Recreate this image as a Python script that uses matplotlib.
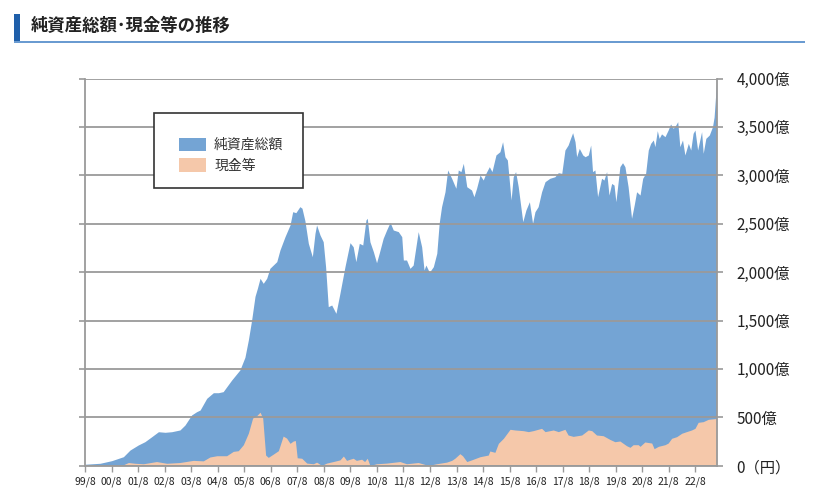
import matplotlib
matplotlib.use("Agg")
import matplotlib.pyplot as plt
from matplotlib.patches import Rectangle, Patch

plt.rcParams["font.family"] = ["Noto Sans CJK JP", "DejaVu Sans"]

# 純資産総額 (億円), x in decimal years
nav_year = [
    1999.58, 2000.15, 2000.59, 2001.03, 2001.28, 2001.59, 2001.84, 2002.10, 2002.35, 2002.60,
    2002.85, 2003.16, 2003.35, 2003.60, 2003.79, 2003.92, 2004.17, 2004.42, 2004.61, 2004.79,
    2005.11, 2005.42, 2005.61, 2005.74, 2005.86, 2005.99, 2006.08, 2006.18, 2006.30, 2006.43,
    2006.55, 2006.81, 2006.93, 2007.12, 2007.31, 2007.41, 2007.53, 2007.68, 2007.76, 2007.87,
    2008.00, 2008.15, 2008.25, 2008.31, 2008.44, 2008.56, 2008.65, 2008.75, 2008.88, 2009.04,
    2009.19, 2009.38, 2009.57, 2009.69, 2009.79, 2009.92, 2010.05, 2010.17, 2010.22, 2010.32,
    2010.45, 2010.57, 2010.67, 2010.82, 2010.95, 2011.08, 2011.20, 2011.39, 2011.52, 2011.58,
    2011.70, 2011.83, 2011.95, 2012.14, 2012.27, 2012.36, 2012.43, 2012.56, 2012.71, 2012.84,
    2012.93, 2013.02, 2013.15, 2013.25, 2013.40, 2013.56, 2013.65, 2013.75, 2013.84, 2013.97,
    2014.15, 2014.24, 2014.34, 2014.47, 2014.59, 2014.69, 2014.82, 2014.92, 2015.07, 2015.22,
    2015.32, 2015.41, 2015.50, 2015.64, 2015.72, 2015.81, 2015.91, 2016.08, 2016.20, 2016.33,
    2016.45, 2016.54, 2016.66, 2016.79, 2016.92, 2017.10, 2017.29, 2017.42, 2017.55, 2017.67,
    2017.79, 2017.88, 2017.96, 2018.05, 2018.11, 2018.21, 2018.34, 2018.43, 2018.55, 2018.64,
    2018.71, 2018.80, 2018.90, 2019.05, 2019.14, 2019.24, 2019.33, 2019.43, 2019.52, 2019.59,
    2019.74, 2019.84, 2019.93, 2020.05, 2020.18, 2020.28, 2020.37, 2020.50, 2020.60, 2020.71,
    2020.81, 2020.90, 2021.00, 2021.06, 2021.15, 2021.22, 2021.31, 2021.44, 2021.56, 2021.65,
    2021.75, 2021.85, 2021.92, 2022.00, 2022.10, 2022.19, 2022.32, 2022.41, 2022.50, 2022.57,
    2022.67, 2022.82, 2022.88, 2022.98, 2023.11, 2023.23, 2023.29, 2023.38,
]
nav_value = [
    15, 25, 52, 93, 162, 214, 248, 300, 351, 345,
    351, 369, 420, 524, 558, 575, 696, 754, 754, 765,
    885, 989, 1120, 1300, 1500, 1750, 1833, 1936, 1884, 1936,
    2039, 2108, 2228, 2366, 2487, 2624, 2614, 2676, 2660, 2531,
    2297, 2159, 2400, 2487, 2383, 2314, 2056, 1643, 1660, 1574,
    1781, 2056, 2304, 2262, 2108, 2297, 2280, 2538, 2556, 2314,
    2211, 2097, 2194, 2349, 2435, 2514, 2435, 2418, 2366, 2125,
    2125, 2039, 2073, 2418, 2262, 2022, 2073, 1998, 2056, 2194,
    2504, 2676, 2830, 3055, 2969, 2866, 3055, 3038, 3124, 2882,
    2848, 2779, 2866, 3003, 2951, 3020, 3089, 3038, 3210, 3244,
    3347, 3192, 3158, 2745, 2985, 3038, 2882, 2521, 2642, 2727,
    2504, 2624, 2676, 2830, 2934, 2969, 2985, 3027, 3020, 3261,
    3313, 3382, 3440, 3347, 3192, 3278, 3210, 3192, 3210, 3313,
    3038, 3055, 2779, 2969, 2951, 3038, 2796, 2916, 2899, 2727,
    3089, 3130, 3089, 2882, 2556, 2693, 2830, 2796, 2969, 3020,
    3261, 3330, 3365, 3296, 3461, 3382, 3428, 3399, 3468, 3530,
    3485, 3520, 3554, 3296, 3365, 3210, 3330, 3261, 3434, 3468,
    3261, 3451, 3227, 3382, 3416, 3502, 3600, 3950,
]

# 現金等 (億円)
cash_year = [
    1999.58, 2001.03, 2001.22, 2001.47, 2001.78, 2002.28, 2002.66, 2003.16, 2003.66, 2004.04,
    2004.29, 2004.55, 2004.92, 2005.17, 2005.36, 2005.55, 2005.74, 2005.90, 2006.05, 2006.18,
    2006.28, 2006.39, 2006.49, 2006.68, 2006.87, 2007.05, 2007.18, 2007.31, 2007.43, 2007.51,
    2007.58, 2007.75, 2007.94, 2008.19, 2008.31, 2008.50, 2008.69, 2008.94, 2009.19, 2009.32,
    2009.44, 2009.57, 2009.69, 2009.81, 2010.01, 2010.12, 2010.22, 2010.32, 2010.57, 2010.95,
    2011.45, 2011.70, 2012.14, 2012.52, 2012.83, 2013.21, 2013.40, 2013.52, 2013.71, 2013.81,
    2013.97, 2014.15, 2014.47, 2014.78, 2014.84, 2015.03, 2015.16, 2015.35, 2015.60, 2015.79,
    2016.10, 2016.29, 2016.47, 2016.79, 2016.92, 2017.23, 2017.42, 2017.67, 2017.79, 2017.98,
    2018.30, 2018.55, 2018.68, 2018.86, 2019.11, 2019.36, 2019.55, 2019.74, 2019.99, 2020.12,
    2020.24, 2020.43, 2020.50, 2020.68, 2020.94, 2021.03, 2021.19, 2021.44, 2021.56, 2021.69,
    2021.88, 2022.07, 2022.25, 2022.44, 2022.57, 2022.69, 2022.88, 2023.07, 2023.32, 2023.40,
]
cash_value = [
    0, 10, 33, 25, 20, 43, 25, 33, 55, 50,
    90, 103, 103, 148, 155, 217, 337, 492, 516, 553,
    492, 110, 86, 120, 155, 306, 285, 231, 255, 260,
    82, 77, 27, 20, 37, 3, 27, 43, 60, 100,
    55, 67, 77, 55, 67, 43, 77, 3, 20, 27,
    43, 20, 33, 3, 20, 37, 55, 77, 124, 103,
    43, 60, 93, 110, 152, 138, 231, 283, 376, 369,
    362, 352, 362, 386, 352, 369, 352, 376, 317, 303,
    317, 369, 362, 317, 310, 272, 248, 255, 207, 190,
    217, 217, 200, 245, 234, 176, 200, 217, 234, 283,
    300, 335, 352, 369, 386, 448, 455, 479, 486, 490,
]

tick_years = list(range(1999, 2023))
tick_labels = [f"{y % 100:02d}/8" for y in tick_years]
y_ticks = [0, 500, 1000, 1500, 2000, 2500, 3000, 3500, 4000]
y_labels = ["0（円）", "500億", "1,000億", "1,500億", "2,000億",
            "2,500億", "3,000億", "3,500億", "4,000億"]

BLUE = "#74A4D4"
ORANGE = "#F5C8AA"
GRID = "#9A9A9A"

fig = plt.figure(figsize=(8.28, 4.99), dpi=100)
ax = fig.add_axes([85 / 828, 1 - 465.7 / 499, 632 / 828, 387.2 / 499])

ax.fill_between(nav_year, 0, nav_value, color=BLUE, lw=0, zorder=1)
ax.fill_between(cash_year, 0, cash_value, color=ORANGE, lw=0, zorder=1.2)

ax.set_xlim(1999.583, 2023.40)
ax.set_ylim(0, 4000)
ax.set_xticks([y + 7 / 12 for y in tick_years])
ax.set_xticklabels(tick_labels, fontsize=7.5, color="#222222")
ax.set_yticks(y_ticks)
ax.set_yticklabels(y_labels, fontsize=11, color="#222222")

ax.set_axisbelow(False)
ax.grid(axis="y", color=GRID, lw=1.3)
ax.grid(axis="x", visible=False)
ax.tick_params(axis="y", left=True, right=True, labelleft=False, labelright=True,
               direction="out", length=4, color=GRID, width=1.2, pad=10)
ax.tick_params(axis="x", direction="out", length=4, color=GRID, width=1.0, pad=4)
for side in ["left", "right", "bottom"]:
    ax.spines[side].set_color(GRID)
    ax.spines[side].set_linewidth(1.3)
ax.spines["top"].set_visible(False)

# legend box
frame = Rectangle((154, 499 - 188), 149, 75, transform=None, fill=True,
                  facecolor="white", edgecolor="#333333", lw=1.2, zorder=4)
fig.patches.append(frame)
handles = [Patch(facecolor=BLUE, edgecolor="none", label="純資産総額"),
           Patch(facecolor=ORANGE, edgecolor="none", label="現金等")]
leg = fig.legend(handles=handles, loc="upper left",
                 bbox_to_anchor=(169 / 828, 1 - 128 / 499), frameon=False,
                 fontsize=10, handlelength=2.0, handleheight=1.1,
                 handletextpad=0.55, labelspacing=0.45, borderpad=0.2)
for t in leg.get_texts():
    t.set_color("#333333")
leg.set_zorder(5)

# title with bar and underline
fig.patches.append(Rectangle((14, 499 - 41.7), 6, 27.7, transform=None,
                             facecolor="#1F5FAA", edgecolor="none"))
fig.patches.append(Rectangle((14, 499 - 42.7), 791, 2, transform=None,
                             facecolor="#6A9BD1", edgecolor="none"))
fig.text(31 / 828, 1 - 26 / 499, "純資産総額･現金等の推移", fontsize=12.5,
         fontweight="bold", color="#222222", va="center", ha="left")

fig.savefig("out.png", dpi=100)
